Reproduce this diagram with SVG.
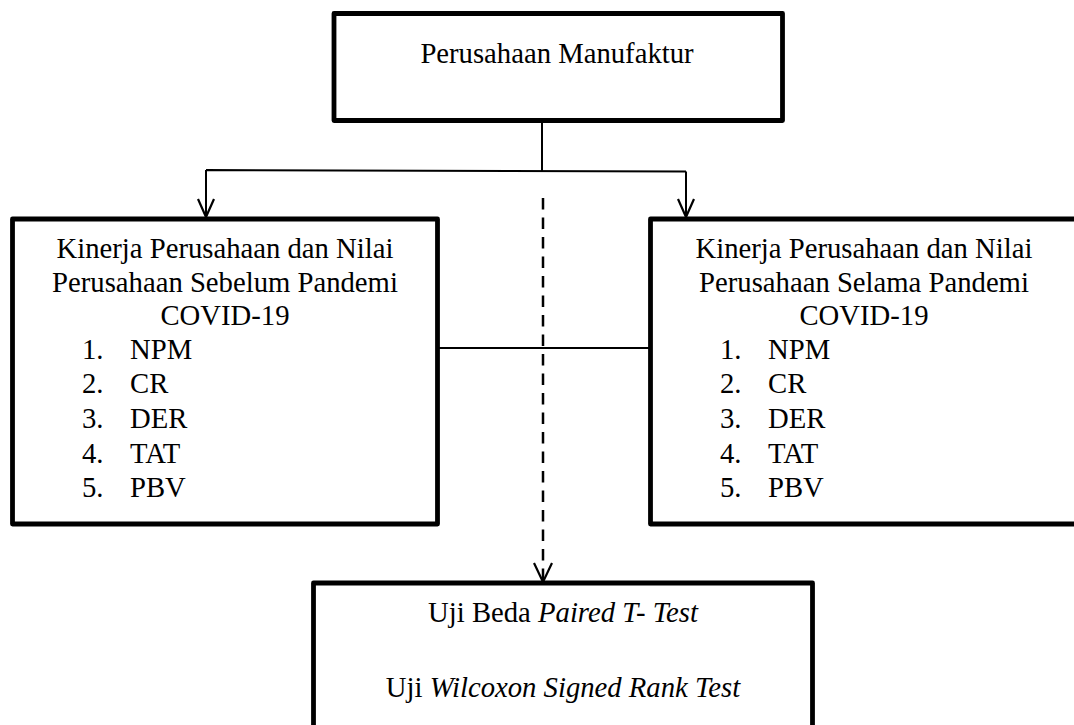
<svg xmlns="http://www.w3.org/2000/svg" width="1074" height="725" viewBox="0 0 1074 725" font-family="'Liberation Serif', 'Times New Roman', serif">
  <defs>
    <style>
      .box { fill: #ffffff; stroke: #000000; stroke-width: 4.8; stroke-linejoin: round; }
      .lbl { font-family: "Liberation Serif", "Times New Roman", serif; font-size: 28.7px; fill: #000000; }
      .mid { text-anchor: middle; }
      .it { font-style: italic; }
      .wire { fill: none; stroke: #000000; stroke-width: 2; }
      .dash { fill: none; stroke: #000000; stroke-width: 2.5; stroke-dasharray: 11.5 8; }
      .head { fill: none; stroke: #000000; stroke-width: 2.2; stroke-linejoin: miter; }
    </style>
  </defs>

  <rect width="1074" height="725" fill="#ffffff"/>

  <!-- connectors -->
  <g id="connectors">
    <!-- trunk from the top node splitting left and right -->
    <path class="wire" d="M542 122 V170.5 M206 170 L686 171.5 M206 170 V216 M686 171.5 V216"/>
    <path class="head" d="M198 199 L206 217 L214 199"/>
    <path class="head" d="M678 199 L686 217 L694 199"/>
    <!-- link between the two comparison nodes -->
    <path class="wire" d="M438 348 H650"/>
    <!-- dashed flow down to the test node -->
    <path class="dash" d="M543 198 V580"/>
    <path class="head" d="M534 563 L543 582 L552 563"/>
  </g>

  <!-- top node -->
  <g id="node-manufaktur">
    <rect class="box" x="334" y="13.5" width="448.5" height="107"/>
    <text class="lbl mid" x="557" y="63">Perusahaan Manufaktur</text>
  </g>

  <!-- before pandemic -->
  <g id="node-sebelum">
    <rect class="box" x="12.5" y="219" width="425" height="305"/>
    <text class="lbl mid" x="225" y="258">Kinerja Perusahaan dan Nilai</text>
    <text class="lbl mid" x="225" y="292">Perusahaan Sebelum Pandemi</text>
    <text class="lbl mid" x="225" y="325">COVID-19</text>
    <text class="lbl" x="82" y="359">1.</text><text class="lbl" x="130" y="359">NPM</text>
    <text class="lbl" x="82" y="393">2.</text><text class="lbl" x="130" y="393">CR</text>
    <text class="lbl" x="82" y="428">3.</text><text class="lbl" x="130" y="428">DER</text>
    <text class="lbl" x="82" y="463">4.</text><text class="lbl" x="130" y="463">TAT</text>
    <text class="lbl" x="82" y="497">5.</text><text class="lbl" x="130" y="497">PBV</text>
  </g>

  <!-- during pandemic -->
  <g id="node-selama">
    <rect class="box" x="650.5" y="219" width="427" height="305"/>
    <text class="lbl mid" x="864" y="258">Kinerja Perusahaan dan Nilai</text>
    <text class="lbl mid" x="864" y="292">Perusahaan Selama Pandemi</text>
    <text class="lbl mid" x="864" y="325">COVID-19</text>
    <text class="lbl" x="720" y="359">1.</text><text class="lbl" x="768" y="359">NPM</text>
    <text class="lbl" x="720" y="393">2.</text><text class="lbl" x="768" y="393">CR</text>
    <text class="lbl" x="720" y="428">3.</text><text class="lbl" x="768" y="428">DER</text>
    <text class="lbl" x="720" y="463">4.</text><text class="lbl" x="768" y="463">TAT</text>
    <text class="lbl" x="720" y="497">5.</text><text class="lbl" x="768" y="497">PBV</text>
  </g>

  <!-- statistical tests -->
  <g id="node-uji">
    <rect class="box" x="313.5" y="583" width="499" height="160"/>
    <text class="lbl mid" x="563" y="622">Uji Beda <tspan class="it">Paired T- Test</tspan></text>
    <text class="lbl mid" x="563" y="697">Uji <tspan class="it">Wilcoxon Signed Rank Test</tspan></text>
  </g>
</svg>
